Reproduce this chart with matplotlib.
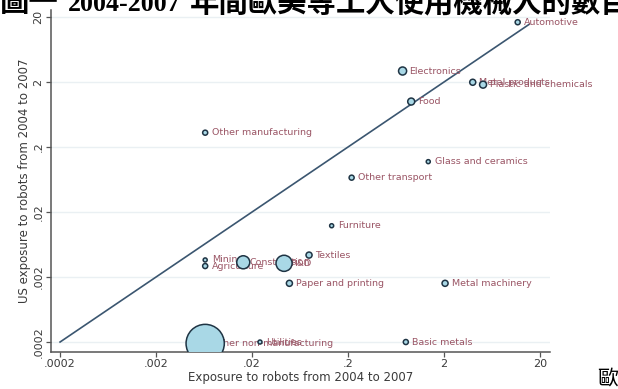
import numpy as np
import matplotlib
matplotlib.use("Agg")
import matplotlib.pyplot as plt

# exposure to robots 2004-2007, by industry
industries = ["Automotive", "Electronics", "Metal products", "Plastic and chemicals",
              "Food", "Other manufacturing", "Glass and ceramics", "Other transport",
              "Furniture", "Textiles", "Mining", "Agriculture", "Construction", "R&D",
              "Paper and printing", "Metal machinery", "Utilities",
              "Other non-manufacturing", "Basic metals"]
europe_exposure = [11.7, 0.74, 3.98, 5.1, 0.91, 0.0065, 1.37, 0.218, 0.135, 0.0785,
                   0.0065, 0.0065, 0.0162, 0.0431, 0.049, 2.05, 0.0242, 0.0065, 0.80]
us_exposure = [16.6, 2.95, 1.98, 1.82, 1.0, 0.332, 0.119, 0.0675, 0.0123, 0.00435,
               0.00366, 0.00295, 0.00337, 0.00325, 0.0016, 0.0016, 0.0002, 0.00019, 0.0002]
employment = [6.3, 16, 9, 12, 12, 6.3, 4, 6.3, 4, 9, 4, 6.3, 42, 64, 9, 9, 4, 361, 6.3]

diag = [0.0002, 15.5]
tick_vals = [0.0002, 0.002, 0.02, 0.2, 2, 20]
tick_text = [".0002", ".002", ".02", ".2", "2", "20"]

fig = plt.figure(figsize=(6.18, 3.89), dpi=100)
ax = fig.add_axes([51 / 618, 1 - 351.5 / 389, 499 / 618, 341.5 / 389])
ax.set_xscale("log")
ax.set_yscale("log")
ax.set_xlim(1.61e-4, 25.4)
ax.set_ylim(1.43e-4, 25.6)

for t in tick_vals:
    ax.axhline(t, color="#eaf0f3", lw=1.0, zorder=0)

ax.plot(diag, diag, color="#3b5670", lw=1.2, zorder=2)

sizes = np.array(employment) * 2.1
ax.scatter(europe_exposure, us_exposure, s=sizes, facecolor="#a9d8e6",
           edgecolor="#1f3444", linewidth=1.1, zorder=3)

for name, x, y in zip(industries, europe_exposure, us_exposure):
    ax.annotate(name, (x, y), xytext=(6.5 * 0.72, 0), textcoords="offset points",
                va="center", ha="left", fontsize=6.8, color="#9a5565", zorder=2.5)

ax.set_xticks(tick_vals)
ax.set_xticklabels(tick_text)
ax.set_yticks(tick_vals)
ax.set_yticklabels(tick_text, rotation=90, va="center")
ax.minorticks_off()
ax.tick_params(axis="both", direction="out", length=3.5, width=0.9, color="#555555",
               labelsize=8, labelcolor="#3a3a3a", pad=2)

for side in ("top", "right"):
    ax.spines[side].set_visible(False)
for side in ("left", "bottom"):
    ax.spines[side].set_color("#555555")
    ax.spines[side].set_linewidth(1.1)

ax.set_xlabel("Exposure to robots from 2004 to 2007", fontsize=8.5, color="#3a3a3a", labelpad=1)
ax.set_ylabel("US exposure to robots from 2004 to 2007", fontsize=8.5, color="#3a3a3a", labelpad=2)

# caption text runs past the canvas edges
cjk = ["Noto Sans CJK TC", "DejaVu Sans"]
base = 1 - 11 / 389
fig.text(0.0, base, "圖一", family=cjk, fontsize=21.2, fontweight="bold",
         ha="left", va="baseline", color="black")
fig.text(68 / 618, base, "2004-2007", family="Liberation Serif", fontsize=18.6,
         fontweight="bold", ha="left", va="baseline", color="black")
fig.text(190 / 618, base, "年間歐美等工人使用機械人的數目", family=cjk, fontsize=21.2,
         fontweight="bold", ha="left", va="baseline", color="black")
fig.text(597 / 618, 1 - 379 / 389, "歐", family=cjk, fontsize=15,
         ha="left", va="center", color="black")

fig.savefig("out.png", dpi=100)
